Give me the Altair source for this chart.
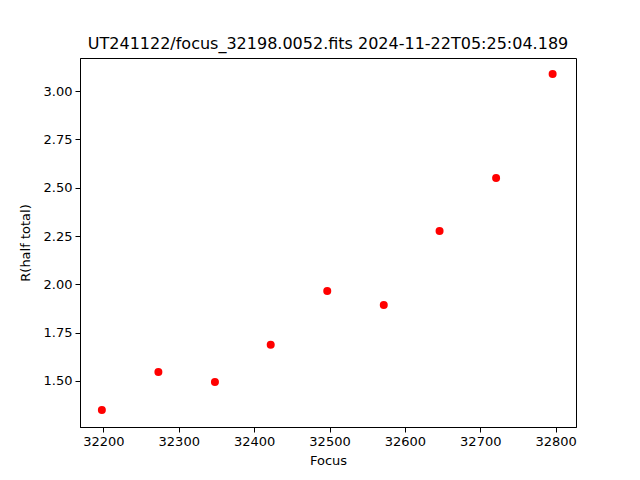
import altair as alt
import pandas as pd

focus = [32198, 32273, 32348, 32422, 32497, 32572, 32646, 32721, 32796]
r_half = [1.35, 1.547, 1.495, 1.687, 1.966, 1.893, 2.276, 2.55, 3.088]
x_ticks = [32200, 32300, 32400, 32500, 32600, 32700, 32800]
y_ticks = [1.50, 1.75, 2.00, 2.25, 2.50, 2.75, 3.00]

df = pd.DataFrame({"Focus": focus, "R": r_half})

font = "DejaVu Sans"

chart = alt.Chart(df).mark_point(
    filled=True, color="#ff0000", opacity=1, size=64
).encode(
    x=alt.X("Focus:Q",
            scale=alt.Scale(domain=[32169, 32827], nice=False, zero=False),
            axis=alt.Axis(values=x_ticks, title="Focus", format="d", grid=False,
                          tickSize=5, tickColor="black", domainColor="black",
                          labelFont=font, labelFontSize=13, labelColor="black",
                          titleFont=font, titleFontSize=13, titleFontWeight="normal",
                          titleColor="black", labelPadding=3, titlePadding=6)),
    y=alt.Y("R:Q",
            scale=alt.Scale(domain=[1.262, 3.171], nice=False, zero=False),
            axis=alt.Axis(values=y_ticks, title="R(half total)", format=".2f", grid=False,
                          tickSize=5, tickColor="black", domainColor="black",
                          labelFont=font, labelFontSize=13, labelColor="black",
                          titleFont=font, titleFontSize=13, titleFontWeight="normal",
                          titleColor="black", labelPadding=3, titlePadding=11)),
).properties(
    width=496,
    height=369,
    title=alt.TitleParams("UT241122/focus_32198.0052.fits 2024-11-22T05:25:04.189",
                          font=font, fontSize=16, fontWeight="normal", color="black",
                          anchor="middle", offset=6),
    autosize=alt.AutoSizeParams(type="none"),
    padding={"left": 72, "top": 50, "right": 50, "bottom": 40},
).configure(background="white").configure_view(stroke="black", strokeWidth=1)

chart.save("out.html", embed_options={"renderer": "svg", "actions": False})
